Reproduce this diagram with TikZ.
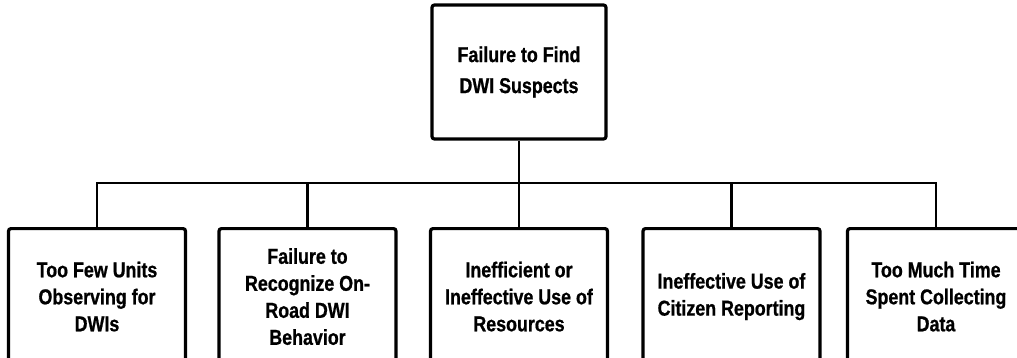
\documentclass[tikz,border=0pt]{standalone}
\usepackage{fontspec}
\setmainfont{Liberation Sans}[FakeStretch=0.83, BoldFeatures={FakeBold=0.8}]
\begin{document}
\begin{tikzpicture}[x=1pt,y=-1pt,
  causebox/.style={draw=black, line width=3.2pt, rounded corners=2.5pt, fill=white,
    align=center, inner sep=0pt, font=\bfseries\fontsize{21.5}{27}\selectfont},
  topbox/.style={causebox, minimum width=174pt, minimum height=134pt,
    font=\bfseries\fontsize{21.5}{31}\selectfont},
  subbox/.style={causebox, minimum width=177pt, minimum height=136pt},
  link/.style={draw=black, line width=2.6pt}]
  \useasboundingbox (0,0) rectangle (1017,358);
  \clip (0,0) rectangle (1017,358);

  % root problem
  \node[topbox] (root) at (519,72) {Failure to Find\\DWI Suspects};

  % contributing causes (boxes run past the lower edge)
  \node[subbox, anchor=north] (b1) at (97,227)   {Too Few Units\\Observing for\\DWIs};
  \node[subbox, anchor=north] (b2) at (307.5,227) {Failure to\\Recognize On-\\Road DWI\\Behavior};
  \node[subbox, anchor=north] (b3) at (519,227)  {Inefficient or\\Ineffective Use of\\Resources};
  \node[subbox, anchor=north] (b4) at (731.5,227) {Ineffective Use of\\Citizen Reporting};
  \node[subbox, anchor=north] (b5) at (936,227)  {Too Much Time\\Spent Collecting\\Data};

  % bus line joining the causes
  \coordinate (bus) at (519,183);
  \draw[link] (root.south) -- (b3.north);
  \draw[link] (b1.north) -- (b1.north |- bus) -- (b5.north |- bus) -- (b5.north);
  \draw[link] (b2.north) -- (b2.north |- bus);
  \draw[link] (b4.north) -- (b4.north |- bus);
\end{tikzpicture}
\end{document}
